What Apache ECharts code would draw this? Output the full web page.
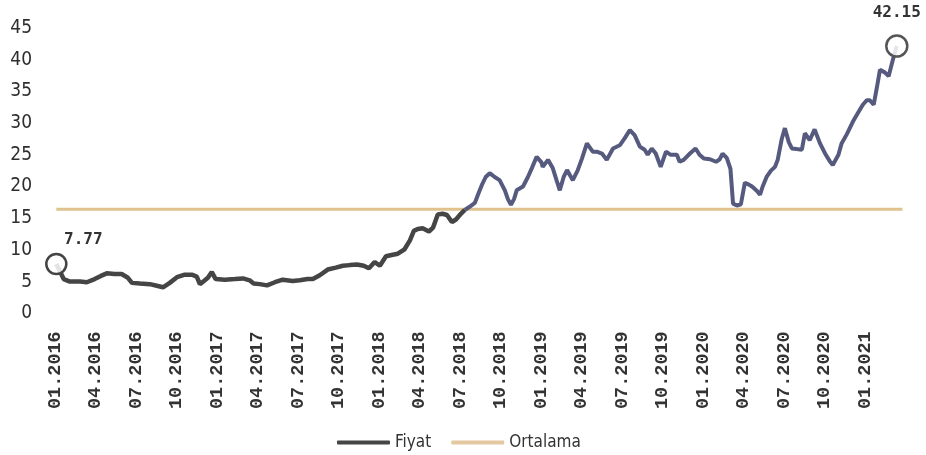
<!DOCTYPE html>
<html>
<head>
<meta charset="utf-8">
<script src="https://cdn.jsdelivr.net/npm/echarts@6/dist/echarts.min.js"></script>
<style>
html,body{margin:0;padding:0;background:#fff;}
#chart{width:926px;height:455px;}
</style>
</head>
<body>
<div id="chart"></div>
<script>
// ---- Data ----
const fiyatDates = ['2016-01-04','2016-01-21','2016-02-04','2016-02-26','2016-03-12','2016-03-30','2016-04-13','2016-04-26','2016-05-14','2016-05-30','2016-06-13','2016-06-22','2016-07-10','2016-08-02','2016-08-20','2016-09-01','2016-09-16','2016-10-02','2016-10-20','2016-11-05','2016-11-16','2016-11-23','2016-12-02','2016-12-11','2016-12-20','2016-12-29','2017-01-19','2017-02-10','2017-02-27','2017-03-14','2017-03-23','2017-04-06','2017-04-22','2017-05-10','2017-05-28','2017-06-19','2017-07-05','2017-07-23','2017-08-04','2017-08-20','2017-09-07','2017-09-25','2017-10-11','2017-10-27','2017-11-12','2017-11-27','2017-12-09','2017-12-22','2018-01-03','2018-01-17','2018-01-30','2018-02-12','2018-02-26','2018-03-10','2018-03-19','2018-03-28','2018-04-08','2018-04-22','2018-05-01','2018-05-12','2018-05-23','2018-06-02','2018-06-13','2018-06-22','2018-07-03','2018-07-12'];
const fiyatValues = [7.77,5.4,5.0,5.0,4.9,5.4,5.9,6.3,6.2,6.2,5.6,4.8,4.7,4.6,4.3,4.1,4.8,5.7,6.1,6.1,5.8,4.6,5.1,5.6,6.5,5.4,5.3,5.4,5.5,5.2,4.7,4.6,4.4,4.9,5.3,5.1,5.2,5.4,5.4,6.0,6.9,7.2,7.5,7.6,7.7,7.5,7.1,8.1,7.5,9.0,9.2,9.4,10.1,11.5,13.0,13.3,13.4,12.9,13.5,15.6,15.7,15.5,14.4,14.8,15.7,16.3];

const fiyat2Dates = ['2018-07-12','2018-07-23','2018-08-04','2018-08-13','2018-08-20','2018-08-29','2018-09-07','2018-09-18','2018-09-29','2018-10-11','2018-10-18','2018-10-25','2018-11-01','2018-11-07','2018-11-21','2018-12-02','2018-12-11','2018-12-22','2019-01-02','2019-01-05','2019-01-17','2019-01-28','2019-02-06','2019-02-12','2019-02-20','2019-02-27','2019-03-12','2019-03-23','2019-04-02','2019-04-13','2019-04-26','2019-05-05','2019-05-17','2019-05-28','2019-06-11','2019-06-26','2019-07-07','2019-07-19','2019-07-30','2019-08-11','2019-08-22','2019-08-29','2019-09-07','2019-09-16','2019-09-27','2019-10-09','2019-10-20','2019-11-03','2019-11-09','2019-11-18','2019-12-02','2019-12-15','2019-12-24','2020-01-03','2020-01-17','2020-01-31','2020-02-08','2020-02-14','2020-02-23','2020-03-02','2020-03-08','2020-03-17','2020-03-26','2020-04-04','2020-04-13','2020-04-20','2020-05-01','2020-05-08','2020-05-14','2020-05-23','2020-06-02','2020-06-11','2020-06-17','2020-06-26','2020-07-03','2020-07-12','2020-07-19','2020-07-30','2020-08-11','2020-08-18','2020-08-29','2020-09-09','2020-09-21','2020-10-04','2020-10-13','2020-10-20','2020-11-02','2020-11-09','2020-11-21','2020-12-04','2020-12-15','2020-12-27','2021-01-05','2021-01-12','2021-01-21','2021-01-28','2021-02-04','2021-02-14','2021-02-22','2021-03-03','2021-03-12'];
const fiyat2Values = [16.3,16.8,17.4,19.0,20.2,21.5,22.1,21.5,21.0,19.4,18.0,17.1,18.0,19.4,20.0,21.5,22.9,24.7,23.8,23.1,24.2,22.9,20.8,19.4,21.5,22.6,21.0,22.5,24.4,26.8,25.5,25.5,25.2,24.2,26.0,26.5,27.6,28.9,28.1,26.3,25.8,25.0,26.0,25.2,23.1,25.5,25.0,25.0,23.9,24.2,25.2,26.0,25.0,24.4,24.3,23.9,24.3,25.2,24.5,22.8,17.3,17.0,17.2,20.6,20.3,20.0,19.3,18.7,20.0,21.5,22.5,23.1,24.2,27.5,29.2,27.0,26.0,25.9,25.8,28.4,27.3,29.0,26.8,25.0,24.0,23.4,25.0,26.8,28.3,30.2,31.5,32.9,33.6,33.6,32.9,35.5,38.4,38.0,37.4,40.0,42.15];

const ortalamaDates = ['2016-01-04','2021-03-25'];
const ortalamaValue = 16.4;

const yTicks = [0,5,10,15,20,25,30,35,40,45];
const legendNames = ['Fiyat','Ortalama'];

// ---- helpers ----
function monthIndex(s){
  const p = s.split('-').map(Number);
  const dim = new Date(Date.UTC(p[0], p[1], 0)).getUTCDate();
  return (p[0]-2016)*12 + (p[1]-1) + (p[2]-1)/dim;
}
function pairs(dates, vals){ return dates.map((d,i)=>[monthIndex(d), vals[i]]); }
function monthLabel(v){
  if (Math.abs(v - Math.round(v)) > 1e-6) return '';
  const r = Math.round(v);
  if (r % 3 !== 0 || r > 60) return '';
  const y = 2016 + Math.floor(r/12);
  const m = (r % 12) + 1;
  return (m < 10 ? '0' + m : '' + m) + '.' + y;
}

const fiyatData = pairs(fiyatDates, fiyatValues);
const fiyat2Data = pairs(fiyat2Dates, fiyat2Values);
const ortData = ortalamaDates.map(d => [monthIndex(d), ortalamaValue]);

const firstPt = fiyatData[0];
const lastPt = fiyat2Data[fiyat2Data.length-1];

const sansFont = "'DejaVu Sans Condensed', 'Noto Sans', sans-serif";

const chart = echarts.init(document.getElementById('chart'), null, {renderer:'canvas'});
chart.setOption({
  animation: false,
  backgroundColor: '#fff',
  grid: { left: 55, right: 20.5, top: 28, bottom: 141.7 },
  xAxis: {
    type: 'value', min: 0, max: 63, interval: 3,
    axisLine: { show: false }, axisTick: { show: false }, splitLine: { show: false },
    axisLabel: {
      rotate: 90, margin: 18, formatter: monthLabel,
      fontFamily: 'Liberation Mono', fontSize: 18.5, fontWeight: 'bold', color: '#333',
      showMaxLabel: false
    }
  },
  yAxis: {
    type: 'value', min: yTicks[0], max: yTicks[yTicks.length-1], interval: 5,
    axisLine: { show: false }, axisTick: { show: false }, splitLine: { show: false },
    axisLabel: {
      margin: 23, fontFamily: sansFont, fontSize: 19, color: '#2e2e2e'
    }
  },
  legend: {
    data: [
      { name: legendNames[0], icon: 'roundRect', itemStyle: { color: '#454545' } },
      { name: legendNames[1], icon: 'roundRect', itemStyle: { color: '#e3c8a2' } }
    ],
    left: 332, top: 429, itemWidth: 53, itemHeight: 4, itemGap: 20,
    textStyle: { fontFamily: sansFont, fontSize: 17, color: '#333' }
  },
  series: [
    {
      name: 'Ortalama', type: 'line', data: ortData, symbol: 'none', z: 1,
      lineStyle: { color: '#dfc28e', width: 3 }, itemStyle: { color: '#dfc28e' }
    },
    {
      name: 'Fiyat', type: 'line', data: fiyatData, symbol: 'none', z: 3,
      lineStyle: { color: '#454545', width: 4.5 }, itemStyle: { color: '#454545' },
      markPoint: {
        symbol: 'circle', symbolSize: 20,
        itemStyle: { color: 'rgba(255,255,255,0.85)', borderColor: '#444', borderWidth: 2.5 },
        label: { show: true, position: 'inside', offset: [27, -24], formatter: '{c}',
          fontFamily: 'DejaVu Sans Mono', fontWeight: 'bold', fontSize: 16, color: '#333' },
        data: [{ coord: firstPt, value: firstPt[1] }]
      }
    },
    {
      name: 'Fiyat2', type: 'line', data: fiyat2Data, symbol: 'none', z: 3,
      lineStyle: { color: '#555a7e', width: 4 }, itemStyle: { color: '#555a7e' },
      markPoint: {
        symbol: 'circle', symbolSize: 21,
        itemStyle: { color: 'rgba(255,255,255,0.85)', borderColor: '#555', borderWidth: 2.5 },
        label: { show: true, position: 'inside', offset: [0, -33], formatter: '{c}',
          fontFamily: 'DejaVu Sans Mono', fontWeight: 'bold', fontSize: 16, color: '#333' },
        data: [{ coord: lastPt, value: lastPt[1] }]
      }
    }
  ]
});
</script>
</body>
</html>
